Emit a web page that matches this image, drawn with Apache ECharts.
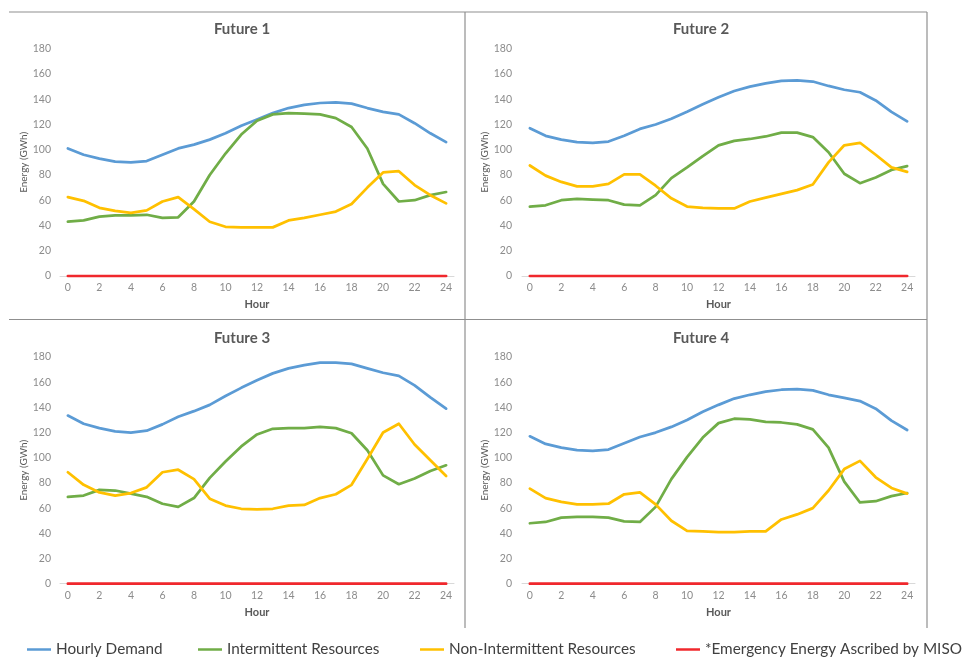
<!DOCTYPE html>
<html>
<head>
<meta charset="utf-8">
<script src="https://cdn.jsdelivr.net/npm/echarts@6/dist/echarts.min.js"></script>
<style>
  html, body { margin: 0; padding: 0; background: #ffffff; }
  #chart { width: 966px; height: 658px; }
</style>
</head>
<body>
<div id="chart"></div>
<script>
// Hours of the day shown on every panel
const hours = ['0','1','2','3','4','5','6','7','8','9','10','11','12','13','14','15','16','17','18','19','20','21','22','23','24'];

const panelTitles = ['Future 1', 'Future 2', 'Future 3', 'Future 4'];
const seriesNames = ['Hourly Demand', 'Intermittent Resources', 'Non-Intermittent Resources', '*Emergency Energy Ascribed by MISO'];

// Future 1 (GWh)
const f1Demand = [101, 96, 93, 90.5, 90, 91, 96, 101, 104, 108, 113, 119, 124, 129, 133, 135.5, 137, 137.5, 136.5, 133, 130, 128, 121, 113, 106];
const f1Intermittent = [43, 44, 47, 48, 48, 48.5, 46, 46.5, 59, 80, 97, 112, 123, 128, 129, 128.5, 128, 125, 118, 101, 73, 59, 60, 64, 66.5];
const f1NonIntermittent = [62.5, 59.5, 54, 51.5, 50, 52, 59, 62.5, 53, 43, 39, 38.5, 38.5, 38.5, 44, 46, 48.5, 51, 57, 70, 82, 83, 72, 64, 57.5];
const f1Emergency = [0, 0, 0, 0, 0, 0, 0, 0, 0, 0, 0, 0, 0, 0, 0, 0, 0, 0, 0, 0, 0, 0, 0, 0, 0];

// Future 2 (GWh)
const f2Demand = [117, 111, 108, 106, 105.5, 106.5, 111, 116.5, 120, 124.5, 130, 136, 141.5, 146.5, 150, 152.5, 154.5, 155, 154, 150.5, 147.5, 145.5, 139, 130, 122.5];
const f2Intermittent = [55, 56, 60, 61, 60.5, 60, 56.5, 56, 64, 77.5, 86, 95, 103.5, 107, 108.5, 110.5, 113.5, 113.5, 110, 98, 81, 73.5, 78, 84, 87];
const f2NonIntermittent = [87.5, 79.5, 74.5, 71, 71, 73, 80.5, 80.5, 71.5, 61.5, 55, 54, 53.5, 53.5, 59, 62, 65, 68, 72.5, 90, 103.5, 105.5, 96, 86, 82.5];
const f2Emergency = [0, 0, 0, 0, 0, 0, 0, 0, 0, 0, 0, 0, 0, 0, 0, 0, 0, 0, 0, 0, 0, 0, 0, 0, 0];

// Future 3 (GWh)
const f3Demand = [133.5, 127, 123.5, 121, 120, 121.5, 126.5, 132.5, 137, 142, 149, 155.5, 161.5, 167, 171, 173.5, 175.5, 175.5, 174.5, 171, 167.5, 165, 157.5, 148, 139];
const f3Intermittent = [69, 70, 74.5, 74, 71.5, 69, 63.5, 61, 68, 84, 97, 109, 118.5, 123, 123.5, 123.5, 124.5, 123.5, 119.5, 106, 86, 79, 83.5, 89.5, 94];
const f3NonIntermittent = [88.5, 78.5, 72.5, 70, 72, 76.5, 88.5, 90.5, 83, 67.5, 62, 59.5, 59, 59.5, 62, 62.5, 68, 71, 78.5, 99, 120, 127, 110.5, 98, 85.5];
const f3Emergency = [0, 0, 0, 0, 0, 0, 0, 0, 0, 0, 0, 0, 0, 0, 0, 0, 0, 0, 0, 0, 0, 0, 0, 0, 0];

// Future 4 (GWh)
const f4Demand = [117, 111, 108, 106, 105.5, 106.5, 111.5, 116.5, 120, 124.5, 130, 136.5, 142, 147, 150, 152.5, 154, 154.5, 153.5, 150, 147.5, 145, 139, 129.5, 122];
const f4Intermittent = [48, 49, 52.5, 53, 53, 52.5, 49.5, 49, 61, 83, 100.5, 116, 127.5, 131, 130.5, 128.5, 128, 126.5, 122.5, 108, 81, 64.5, 65.5, 69.5, 72];
const f4NonIntermittent = [75.5, 68, 65, 63, 63, 63.5, 71, 72.5, 63, 50, 42, 41.5, 41, 41, 41.5, 41.5, 51, 55, 60, 74, 91, 97.5, 84.5, 76, 71.5];
const f4Emergency = [0, 0, 0, 0, 0, 0, 0, 0, 0, 0, 0, 0, 0, 0, 0, 0, 0, 0, 0, 0, 0, 0, 0, 0, 0];

const panels = [
  [f1Demand, f1Intermittent, f1NonIntermittent, f1Emergency],
  [f2Demand, f2Intermittent, f2NonIntermittent, f2Emergency],
  [f3Demand, f3Intermittent, f3NonIntermittent, f3Emergency],
  [f4Demand, f4Intermittent, f4NonIntermittent, f4Emergency]
];

const colors = ['#5B9BD5', '#70AD47', '#FFC000', '#F0282D'];
const FONT = 'Lato, "Open Sans", sans-serif';

// Plot-area geometry of the 2x2 layout
const gridBoxes = [
  { left: 60,  top: 48.7, width: 394, height: 227.3 },
  { left: 522, top: 48.7, width: 393, height: 227.3 },
  { left: 60,  top: 357,  width: 394, height: 226.7 },
  { left: 522, top: 357,  width: 393, height: 226.7 }
];
const titleSpots = [
  { x: 237, y: 17 }, { x: 696, y: 17 }, { x: 237, y: 326 }, { x: 696, y: 326 }
];

const chart = echarts.init(document.getElementById('chart'), null, { renderer: 'canvas' });

const grids = [], xAxes = [], yAxes = [], series = [], titles = [];
gridBoxes.forEach((g, i) => {
  grids.push(Object.assign({ containLabel: false }, g));
  titles.push({
    text: panelTitles[i],
    left: titleSpots[i].x,
    top: titleSpots[i].y,
    textAlign: 'center',
    textStyle: { fontFamily: FONT, fontSize: 15, fontWeight: 'bold', color: '#595959' }
  });
  xAxes.push({
    type: 'category',
    gridIndex: i,
    data: hours,
    boundaryGap: true,
    name: 'Hour',
    nameLocation: 'middle',
    nameGap: 23,
    nameTextStyle: { fontFamily: FONT, fontSize: 11, fontWeight: 'bold', color: '#595959' },
    axisLine: { show: true, lineStyle: { color: '#d9d9d9', width: 1 } },
    axisTick: { show: false },
    axisLabel: { interval: 1, margin: 6, fontFamily: FONT, fontSize: 10.5, color: '#8c8c8c' },
    splitLine: { show: false }
  });
  yAxes.push({
    type: 'value',
    gridIndex: i,
    min: 0,
    max: 180,
    interval: 20,
    name: 'Energy (GWh)',
    nameLocation: 'middle',
    nameRotate: 90,
    nameGap: 30,
    nameTextStyle: { fontFamily: FONT, fontSize: 10, color: '#595959' },
    axisLine: { show: false },
    axisTick: { show: false },
    axisLabel: { margin: i % 2 === 0 ? 9 : 10, fontFamily: FONT, fontSize: 10.5, color: '#8c8c8c' },
    splitLine: { show: false }
  });
  panels[i].forEach((vals, k) => {
    series.push({
      name: seriesNames[k],
      type: 'line',
      xAxisIndex: i,
      yAxisIndex: i,
      data: vals,
      showSymbol: false,
      symbol: 'none',
      smooth: false,
      lineStyle: { color: colors[k], width: 2.75, cap: 'round', join: 'round' },
      itemStyle: { color: colors[k] },
      emphasis: { disabled: true },
      animation: false
    });
  });
});

// One legend per entry so each item sits at its own spot along the bottom
const legendLefts = [22, 193, 415, 671];
const legends = seriesNames.map((name, k) => ({
  data: [name],
  left: legendLefts[k],
  top: 637,
  icon: 'rect',
  itemWidth: 24,
  itemHeight: 2.5,
  itemGap: 0,
  selectedMode: false,
  textStyle: { fontFamily: FONT, fontSize: 15.3, color: '#404040' }
}));

// Panel frame lines
const frameColor = '#8f8f8f';
const frame = [
  [9, 12, 927, 12],
  [9, 319.5, 927, 319.5],
  [465, 12, 465, 628],
  [927, 12, 927, 628]
].map(p => ({
  type: 'line',
  shape: { x1: p[0], y1: p[1], x2: p[2], y2: p[3] },
  style: { stroke: frameColor, lineWidth: 1.2 },
  silent: true
}));

chart.setOption({
  backgroundColor: '#ffffff',
  animation: false,
  title: titles,
  grid: grids,
  xAxis: xAxes,
  yAxis: yAxes,
  legend: legends,
  series: series,
  graphic: frame
});
</script>
</body>
</html>
